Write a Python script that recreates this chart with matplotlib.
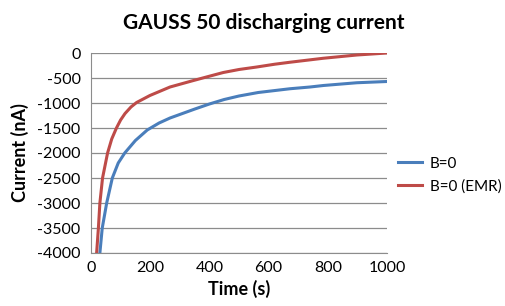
import matplotlib
matplotlib.use('Agg')
import matplotlib.pyplot as plt

# Valorile
time_b0 = [26, 30, 38, 53, 72, 92, 114, 150, 190, 230, 267, 351, 400, 450, 500, 565, 672, 740, 785, 898, 1000]
curr_b0 = [-4500, -4000, -3500, -3000, -2500, -2200, -2000, -1750, -1540, -1400, -1300,
           -1120, -1020, -930, -860, -790, -715, -680, -650, -595, -570]

time_emr = [15, 19, 25, 30, 39, 56, 70, 86, 100, 115, 135, 154, 199, 267, 340, 390, 447,
            500, 560, 620, 672, 785, 898, 1000]
curr_emr = [-4500, -4000, -3500, -3000, -2500, -2000, -1720, -1500, -1340, -1210, -1080,
            -990, -850, -680, -560, -480, -390, -330, -280, -225, -185, -105, -40, 0]

labels = ['B=0', 'B=0 (EMR)']
colors = ['#4a7ebb', '#be4b48']

plt.rcParams['font.family'] = ['Lato', 'DejaVu Sans']
plt.rcParams['axes.unicode_minus'] = False

fig = plt.figure(figsize=(5.06, 3.06), dpi=100)
ax = fig.add_axes([91 / 506, 53 / 306, 296 / 506, 200 / 306])

ax.plot(time_b0, curr_b0, color=colors[0], lw=2.2, label=labels[0])
ax.plot(time_emr, curr_emr, color=colors[1], lw=2.2, label=labels[1])

ax.set_xlim(0, 1000)
ax.set_ylim(-4000, 0)
ax.set_yticks(range(-4000, 1, 500))
ax.set_xticks(range(0, 1001, 200))
ax.grid(axis='y', color='#8c8c8c', lw=0.9)
ax.set_axisbelow(True)
for s in ['top', 'right']:
    ax.spines[s].set_visible(False)
for s in ['left', 'bottom']:
    ax.spines[s].set_color('#8c8c8c')
ax.tick_params(length=0, labelsize=11.5)
ax.tick_params(axis='y', pad=7.5)
ax.tick_params(axis='x', pad=6)

# titlul e centrat pe toata zona graficului, nu doar pe axe
ax.set_title('GAUSS 50 discharging current', fontsize=15, fontweight='bold', pad=17, x=0.584)
ax.set_xlabel('Time (s)', fontsize=13, fontweight='bold', labelpad=3)
ax.set_ylabel('Current (nA)', fontsize=13, fontweight='bold', labelpad=6)

ax.legend(loc='center left', bbox_to_anchor=(1.037, 0.39), frameon=False,
          fontsize=11, handlelength=1.57, handletextpad=0.52, labelspacing=0.55,
          borderaxespad=0, borderpad=0)

fig.savefig('out.png', dpi=100)
